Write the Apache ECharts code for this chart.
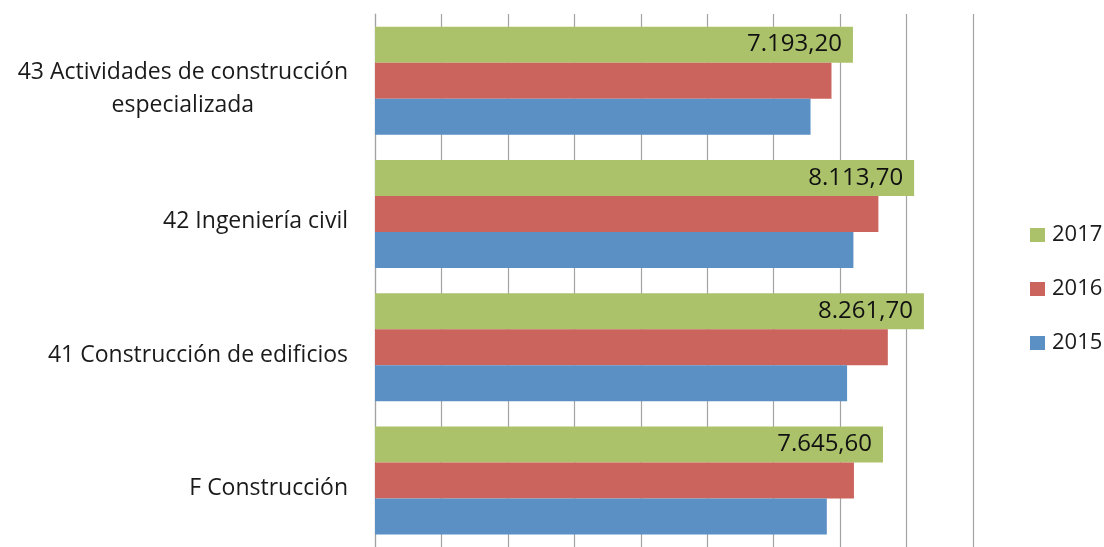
<!DOCTYPE html>
<html>
<head>
<meta charset="utf-8">
<script src="https://cdn.jsdelivr.net/npm/echarts@6/dist/echarts.min.js"></script>
<style>
  html, body { margin: 0; padding: 0; background: #fff; }
  #chart { width: 1104px; height: 547px; }
</style>
</head>
<body>
<div id="chart"></div>
<script>
  // categories listed bottom to top (category axis on y starts at the bottom)
  var categories = [
    'F Construcción',
    '41 Construcción de edificios',
    '42 Ingeniería civil',
    '43 Actividades de construcción\nespecializada'
  ]
  var values2015 = [6800, 7105, 7200, 6555]
  var values2016 = [7208, 7718, 7576, 6870]
  var values2017 = [7645.6, 8261.7, 8113.7, 7193.2]
  var legendNames = ['2017', '2016', '2015']

  var fontFamily = '"Open Sans", Lato, sans-serif'

  function esNumber (v) {
    var parts = v.toFixed(2).split('.')
    parts[0] = parts[0].replace(/\B(?=(\d{3})+(?!\d))/g, '.')
    return parts[0] + ',' + parts[1]
  }

  var chart = echarts.init(document.getElementById('chart'))
  var option = {
    animation: false,
    textStyle: { fontFamily: fontFamily },
    grid: {
      left: 375,
      top: 14,
      width: 598,
      height: 539
    },
    legend: {
      orient: 'vertical',
      left: 1025,
      top: 219,
      itemWidth: 15,
      itemHeight: 14,
      itemGap: 32,
      icon: 'rect',
      data: legendNames,
      textStyle: { fontSize: 22, color: '#1a1a1a', fontFamily: fontFamily, padding: [0, 0, 0, 2] }
    },
    xAxis: {
      type: 'value',
      min: 0,
      max: 9000,
      interval: 1000,
      axisLabel: { show: false },
      axisTick: { show: false },
      axisLine: { show: false },
      splitLine: { show: true, lineStyle: { color: '#a3a3a3', width: 1.2 } }
    },
    yAxis: {
      type: 'category',
      data: categories,
      axisTick: { show: false },
      axisLine: { show: true, lineStyle: { color: '#a3a3a3', width: 1.2 } },
      axisLabel: {
        margin: 27,
        fontSize: 23,
        color: '#1a1a1a',
        lineHeight: 33,
        padding: [16, 0, 0, 0],
        formatter: function (v) {
          return v.split('\n').map(function (s) { return '{c|' + s + '}' }).join('\n')
        },
        rich: {
          c: { align: 'center', fontSize: 23, lineHeight: 33, color: '#1a1a1a', fontFamily: fontFamily }
        }
      }
    },
    series: [
      {
        name: '2017',
        type: 'bar',
        data: values2017,
        barWidth: 36,
        barGap: '0%',
        itemStyle: { color: '#abc26b' },
        label: {
          show: true,
          position: 'insideRight',
          distance: 11,
          fontSize: 24,
          color: '#111',
          fontFamily: fontFamily,
          formatter: function (p) { return esNumber(p.value) }
        }
      },
      {
        name: '2016',
        type: 'bar',
        data: values2016,
        barWidth: 36,
        barGap: '0%',
        itemStyle: { color: '#cb645c' }
      },
      {
        name: '2015',
        type: 'bar',
        data: values2015,
        barWidth: 36,
        barGap: '0%',
        itemStyle: { color: '#5b90c5' }
      }
    ]
  }
  chart.setOption(option)
</script>
</body>
</html>
